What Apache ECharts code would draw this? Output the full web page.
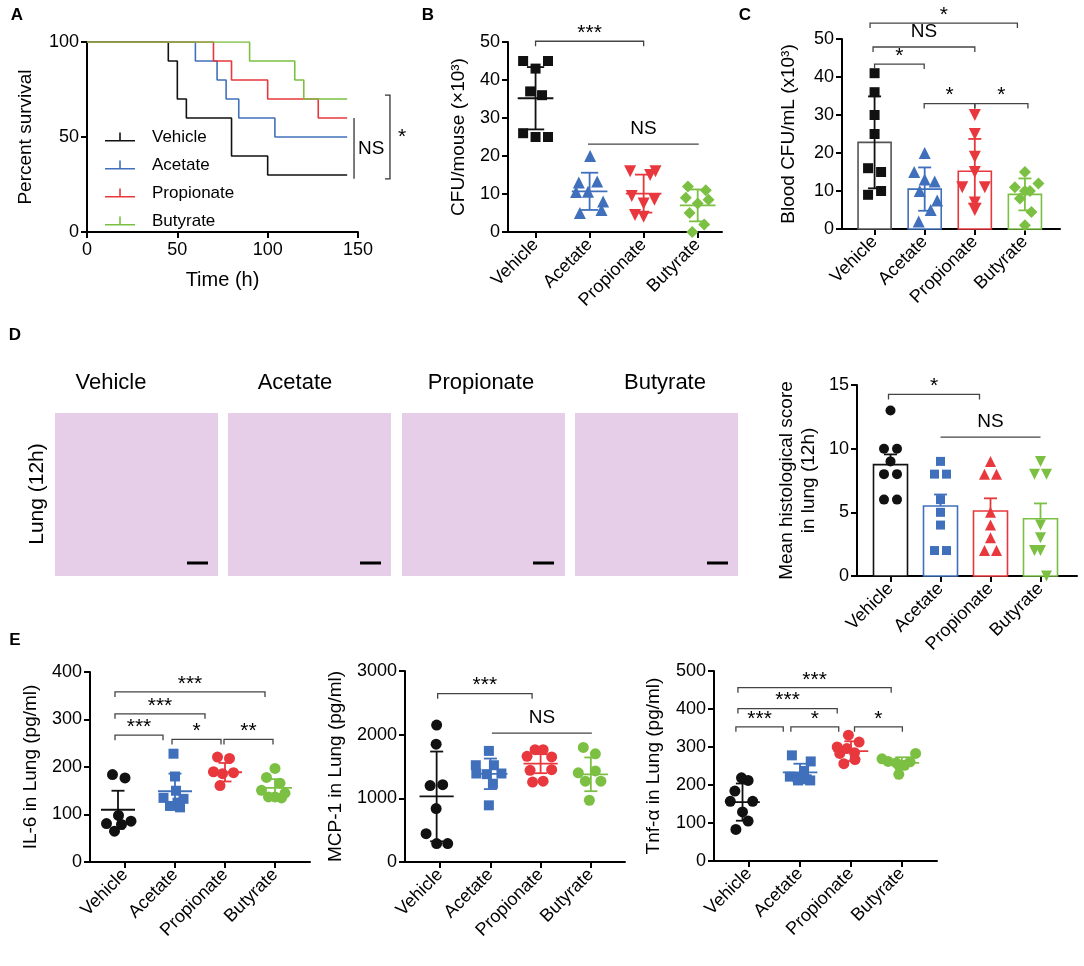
<!DOCTYPE html>
<html>
<head>
<meta charset="utf-8">
<script src="https://cdn.jsdelivr.net/npm/echarts/dist/echarts.min.js"></script>
<style>
  html, body { margin: 0; padding: 0; background: #fff; }
  #chart { width: 1084px; height: 966px; }
</style>
</head>
<body>
<div id="chart"></div>
<script>
const FONT = "'Liberation Sans', Arial, Helvetica, sans-serif";
const groups = ['Vehicle', 'Acetate', 'Propionate', 'Butyrate'];
const groupColors = ['#111111', '#4070bb', '#e8383d', '#7cc043'];

// A - survival curves (time h, percent surviving after each drop)
const survVehicleT = [0, 45, 50, 55, 80, 100, 144];
const survVehicleP = [100, 90, 70, 60, 40, 30, 30];
const survAcetateT = [0, 60, 72, 77, 84, 104, 144];
const survAcetateP = [100, 90, 80, 70, 60, 50, 50];
const survPropT = [0, 70, 80, 100, 128, 144];
const survPropP = [100, 90, 80, 70, 60, 60];
const survButT = [0, 90, 115, 120, 144];
const survButP = [100, 90, 80, 70, 70];
const survBrackets = [[147.8, 60, 28, 'NS', 0], [167.7, 72, 28, '*', 1]];

// B - CFU/mouse (x10^3)
const cfuValues = [
  [45, 45, 43, 37, 36, 26, 25, 25],
  [20, 13, 13.3, 10.5, 10.6, 8, 5, 5.8],
  [16, 16, 15, 9.5, 7.5, 8.5, 4.5, 4],
  [12, 11, 9, 8.5, 7.5, 5, 2, 0]
];
const cfuJitter = [
  [-0.23, 0.23, 0, -0.1, 0.12, -0.23, 0, 0.23],
  [0.01, -0.2, 0.14, -0.25, -0.03, 0.25, -0.18, 0.22],
  [-0.25, 0.22, 0.12, -0.22, 0, 0.2, -0.16, 0],
  [-0.18, 0.15, -0.22, 0.2, 0, -0.15, 0.12, -0.1]
];
const cfuMean = [35.2, 10.7, 10.1, 7.0];
const cfuSd = [8.2, 4.9, 5.0, 4.2];
const cfuBrackets = [[0, 2, 50.2, '***'], [0.97, 3.02, 23.1, 'NS', 0]];

// C - Blood CFU/mL (x10^3)
const bloodValues = [
  [41, 36, 30, 25, 16, 15, 9, 10],
  [20, 15, 13, 12.5, 10, 7.5, 5, 2],
  [30, 25, 19, 15, 11, 11, 7, 5],
  [15, 12, 11, 10, 10, 8, 4.5, 1]
];
const bloodJitter = [
  [0, 0, 0, 0, -0.13, 0.13, -0.13, 0.13],
  [0, -0.21, 0, 0.2, -0.1, 0.25, 0.12, -0.12],
  [0, 0, 0, 0, -0.25, 0.2, 0, 0],
  [0, 0.27, -0.2, 0, 0.1, -0.1, 0.13, 0]
];
const bloodMean = [22.8, 10.5, 15.2, 9.1];
const bloodSd = [12.1, 5.7, 8.5, 4.2];
const bloodBrackets = [
  [-0.09, 2.85, 54.2, '*'], [-0.03, 2.0, 47.9, 'NS'], [0, 0.99, 43.4, '*'],
  [0.99, 2.0, 33, '*'], [2.0, 3.06, 33, '*']
];

// D - mean histological score
const histValues = [
  [13, 10, 10, 9, 8, 8, 6, 6],
  [9, 8, 8, 6, 5, 4, 2, 2],
  [9, 8, 8, 5, 4, 3, 2, 2],
  [9, 8, 8, 4, 3, 2, 2, 0]
];
const histJitter = [
  [0, -0.13, 0.13, 0, -0.13, 0.13, -0.13, 0.13],
  [0, -0.12, 0.12, 0, 0, 0, -0.12, 0.12],
  [0, -0.12, 0.12, 0, 0, 0, -0.12, 0.12],
  [0, -0.12, 0.12, 0, 0, 0, -0.12, 0.12]
];
const histMean = [8.75, 5.5, 5.1, 4.5];
const histSem = [0.8, 0.9, 1.0, 1.2];
const histBrackets = [[-0.04, 1.78, 14.26, '*'], [1.0, 3.0, 10.9, 'NS', 0]];

// E - cytokines in lung (pg/ml)
const il6Values = [
  [184, 177, 98, 81, 86, 79, 65],
  [228, 180, 150, 135, 133, 125, 118, 115],
  [221, 218, 190, 188, 186, 161],
  [197, 178, 166, 151, 145, 137, 137, 135]
];
const il6Jitter = [
  [-0.25, 0, -0.13, -0.37, 0.12, -0.07, -0.21],
  [-0.03, 0, 0.02, -0.23, 0.17, 0.05, -0.1, 0.1],
  [-0.15, 0.09, -0.23, 0.17, -0.05, -0.1],
  [0, -0.17, 0.1, -0.27, 0.2, -0.13, 0, 0.13]
];
const il6Center = [-0.14, 1, 2, 3];
const il6Mean = [110, 149, 189, 156];
const il6Sd = [40, 37, 19.5, 18.5];
const il6Brackets = [
  [-0.2, 2.8, 358, '***'], [-0.2, 1.6, 312, '***'], [-0.2, 0.76, 267, '***'],
  [0.94, 1.92, 258, '*'], [1.98, 2.96, 258, '**']
];

const mcpValues = [
  [2150, 1850, 1200, 1215, 840, 445, 290, 290],
  [1745, 1520, 1520, 1390, 1380, 1390, 1230, 890],
  [1765, 1765, 1660, 1650, 1440, 1450, 1256, 1270],
  [1800, 1700, 1400, 1430, 1270, 1270, 970]
];
const mcpJitter = [
  [-0.07, -0.08, -0.2, 0.05, -0.08, -0.28, -0.07, 0.15],
  [-0.03, -0.29, 0.07, -0.28, -0.07, 0.22, 0.05, -0.03],
  [-0.11, 0.05, -0.27, 0.22, -0.21, 0.22, -0.16, 0.05],
  [-0.15, 0.09, -0.25, 0.09, -0.11, 0.2, -0.03]
];
const mcpCenter = [-0.07, 1, 2, 3];
const mcpMean = [1030, 1385, 1545, 1377];
const mcpSd = [705, 240, 150, 265];
const mcpBrackets = [[-0.05, 1.83, 2644, '***'], [1.03, 3.02, 2025, 'NS', 0]];

const tnfValues = [
  [219, 212, 184, 157, 157, 129, 105, 83],
  [278, 262, 237, 222, 220, 215, 212, 212],
  [331, 313, 300, 296, 285, 283, 267, 256],
  [283, 269, 262, 261, 258, 252, 250, 228]
];
const tnfJitter = [
  [-0.15, -0.02, -0.28, -0.37, 0.07, -0.13, -0.02, -0.26],
  [-0.16, 0.21, 0.08, -0.2, -0.05, 0.13, -0.04, 0.2],
  [-0.05, 0.16, -0.27, -0.08, 0.07, -0.22, 0.08, -0.14],
  [0.27, -0.39, -0.27, 0.16, -0.11, 0.05, -0.05, -0.06]
];
const tnfCenter = [-0.13, 1, 2, 3];
const tnfMean = [155, 233, 289, 258];
const tnfSd = [49, 23, 26, 15];
const tnfBrackets = [
  [-0.22, 2.79, 456, '***'], [-0.22, 1.73, 401, '***'], [-0.26, 0.67, 353, '***'],
  [0.82, 1.76, 353, '*'], [2.07, 3.01, 353, '*']
];

const histTitles = ['Vehicle', 'Acetate', 'Propionate', 'Butyrate'];

// ---------- helpers ----------
const axisLine = { show: true, onZero: false, lineStyle: { color: '#000', width: 2 } };
const axisTick = { show: true, length: 6, lineStyle: { color: '#000', width: 2 } };

function groupAxis(gi, min, max) {
  return {
    type: 'value', gridIndex: gi, min: min, max: max,
    axisLine: axisLine,
    axisTick: Object.assign({ customValues: [0, 1, 2, 3] }, axisTick),
    axisLabel: {
      customValues: [0, 1, 2, 3], rotate: 45, margin: 10, fontSize: 18, color: '#000', fontFamily: FONT,
      formatter: v => groups[Math.round(v)] || ''
    },
    splitLine: { show: false }
  };
}

function valueAxis(gi, max, interval, name, gap, extra) {
  return Object.assign({
    type: 'value', gridIndex: gi, min: 0, max: max, interval: interval,
    name: name, nameLocation: 'middle', nameGap: gap,
    nameTextStyle: { fontSize: 19, color: '#000', fontFamily: FONT },
    axisLine: axisLine, axisTick: axisTick,
    axisLabel: { fontSize: 18, color: '#000', margin: 8, fontFamily: FONT, formatter: v => String(v) },
    splitLine: { show: false }
  }, extra || {});
}

function dots(gi, values, jitter, k, symbol, size, rotate) {
  return {
    type: 'scatter', xAxisIndex: gi, yAxisIndex: gi, silent: true, z: 3,
    symbol: symbol, symbolSize: size, symbolRotate: rotate || 0,
    itemStyle: { color: groupColors[k], opacity: 1 },
    data: values.map((v, i) => [k + jitter[i], v])
  };
}

function errorBars(gi, centers, means, errs, halfMean, halfCap, upOnly) {
  return {
    type: 'custom', xAxisIndex: gi, yAxisIndex: gi, silent: true, z: 4,
    data: means.map((m, i) => [centers[i], m, errs[i], i]),
    renderItem: (params, api) => {
      const x = api.value(0), m = api.value(1), s = api.value(2), k = api.value(3);
      const unit = api.size([1, 0])[0];
      const c = api.coord([x, m]);
      const hi = api.coord([x, m + s]);
      const lo = api.coord([x, upOnly ? m : m - s]);
      const st = { stroke: groupColors[k], lineWidth: 1.8 };
      const cw = halfCap * unit;
      const ch = [
        { type: 'line', shape: { x1: c[0], y1: hi[1], x2: c[0], y2: lo[1] }, style: st },
        { type: 'line', shape: { x1: c[0] - cw, y1: hi[1], x2: c[0] + cw, y2: hi[1] }, style: st }
      ];
      if (!upOnly) ch.push({ type: 'line', shape: { x1: c[0] - cw, y1: lo[1], x2: c[0] + cw, y2: lo[1] }, style: st });
      if (halfMean) ch.push({ type: 'line', shape: { x1: c[0] - halfMean * unit, y1: c[1], x2: c[0] + halfMean * unit, y2: c[1] }, style: st });
      return { type: 'group', children: ch };
    }
  };
}

function openBars(gi, means, half, strokes) {
  return {
    type: 'custom', xAxisIndex: gi, yAxisIndex: gi, silent: true, z: 2,
    data: means.map((m, i) => [i, m]),
    renderItem: (params, api) => {
      const i = api.value(0), m = api.value(1);
      const p0 = api.coord([i - half, m]), p1 = api.coord([i + half, 0]);
      return {
        type: 'rect',
        shape: { x: p0[0], y: p0[1], width: p1[0] - p0[0], height: p1[1] - p0[1] },
        style: { fill: '#fff', stroke: strokes[i], lineWidth: 1.6 }
      };
    }
  };
}

function brackets(gi, list) {
  return {
    type: 'custom', xAxisIndex: gi, yAxisIndex: gi, silent: true, clip: false, z: 5,
    encode: { x: [0, 1], y: 2 },
    data: list.map(b => [b[0], b[1], b[2]]),
    renderItem: (params, api) => {
      const b = list[params.dataIndex];
      const p1 = api.coord([b[0], b[2]]), p2 = api.coord([b[1], b[2]]);
      const t = b[4] === 0 ? 0 : 5;
      const ns = b[3] === 'NS';
      return {
        type: 'group', children: [
          { type: 'polyline', shape: { points: [[p1[0], p1[1] + t], p1, p2, [p2[0], p2[1] + t]] },
            style: { stroke: '#444', lineWidth: 1.3, fill: 'none' } },
          { type: 'text', x: (p1[0] + p2[0]) / 2, y: p1[1] - (ns ? 15 : 8),
            style: { text: b[3], align: 'center', verticalAlign: 'middle', fontSize: ns ? 19 : 21, fill: '#000', fontFamily: FONT } }
        ]
      };
    }
  };
}

function vBrackets(gi, list) {
  return {
    type: 'custom', xAxisIndex: gi, yAxisIndex: gi, silent: true, clip: false, z: 5,
    encode: { x: 0, y: [1, 2] },
    data: list.map(b => [b[0], b[1], b[2]]),
    renderItem: (params, api) => {
      const b = list[params.dataIndex];
      const p1 = api.coord([b[0], b[1]]), p2 = api.coord([b[0], b[2]]);
      const t = b[4] === 0 ? 0 : 5;
      const ns = b[3] === 'NS';
      return {
        type: 'group', children: [
          { type: 'polyline', shape: { points: [[p1[0] - t, p1[1]], p1, p2, [p2[0] - t, p2[1]]] },
            style: { stroke: '#333', lineWidth: 1.3, fill: 'none' } },
          { type: 'text', x: p1[0] + (ns ? 4 : 8), y: (p1[1] + p2[1]) / 2,
            style: { text: b[3], align: 'left', verticalAlign: 'middle', fontSize: ns ? 19 : 21, fill: '#000', fontFamily: FONT } }
        ]
      };
    }
  };
}

function survLine(name, t, p, k) {
  return {
    name: name, type: 'line', xAxisIndex: 0, yAxisIndex: 0, step: 'end', showSymbol: false, silent: true,
    lineStyle: { color: groupColors[k], width: 1.6 }, itemStyle: { color: groupColors[k] },
    data: t.map((x, i) => [x, p[i]])
  };
}

// ---------- graphics (panel letters, histology placeholders) ----------
const imgX = [55, 228, 402, 575];
const titleX = [111, 295, 481, 665];
const scaleBarX = [187, 360, 533, 707];
const graphics = [];
[['A', 17, 15], ['B', 428, 15], ['C', 745, 15], ['D', 15, 335], ['E', 15, 640]].forEach(l => {
  graphics.push({ type: 'text', x: l[1], y: l[2],
    style: { text: l[0], font: 'bold 17px ' + FONT, fill: '#000', align: 'center', verticalAlign: 'middle' } });
});
histTitles.forEach((t, i) => {
  graphics.push({ type: 'text', x: titleX[i], y: 383,
    style: { text: t, fontSize: 22, fontFamily: FONT, fill: '#000', align: 'center', verticalAlign: 'middle' } });
  graphics.push({ type: 'rect', shape: { x: imgX[i], y: 413, width: 163, height: 163 },
    style: { fill: '#e6cde8' } });
  graphics.push({ type: 'line', shape: { x1: scaleBarX[i], y1: 563, x2: scaleBarX[i] + 21, y2: 563 },
    style: { stroke: '#000', lineWidth: 3 } });
});
graphics.push({ type: 'text', x: 37, y: 494, rotation: Math.PI / 2,
  style: { text: 'Lung (12h)', fontSize: 21, fontFamily: FONT, fill: '#000', align: 'center', verticalAlign: 'middle' } });

// ---------- option ----------
const series = [
  survLine('Vehicle', survVehicleT, survVehicleP, 0),
  survLine('Acetate', survAcetateT, survAcetateP, 1),
  survLine('Propionate', survPropT, survPropP, 2),
  survLine('Butyrate', survButT, survButP, 3),
  vBrackets(0, survBrackets)
];

// B
const bcSymbols = [['rect', 10, 0], ['triangle', 12, 0], ['triangle', 12, 180], ['diamond', 12, 0]];
cfuValues.forEach((v, k) => series.push(dots(1, v, cfuJitter[k], k, bcSymbols[k][0], bcSymbols[k][1], bcSymbols[k][2])));
series.push(errorBars(1, [0, 1, 2, 3], cfuMean, cfuSd, 0.33, 0.16, false));
series.push(brackets(1, cfuBrackets));

// C
series.push(openBars(2, bloodMean, 0.33, ['#555', groupColors[1], groupColors[2], groupColors[3]]));
bloodValues.forEach((v, k) => series.push(dots(2, v, bloodJitter[k], k, bcSymbols[k][0], bcSymbols[k][1], bcSymbols[k][2])));
series.push(errorBars(2, [0, 1, 2, 3], bloodMean, bloodSd, 0, 0.13, false));
series.push(brackets(2, bloodBrackets));

// D
const dSymbols = [['circle', 10, 0], ['rect', 9, 0], ['triangle', 11, 0], ['triangle', 11, 180]];
series.push(openBars(3, histMean, 0.34, ['#111', groupColors[1], groupColors[2], groupColors[3]]));
histValues.forEach((v, k) => series.push(dots(3, v, histJitter[k], k, dSymbols[k][0], dSymbols[k][1], dSymbols[k][2])));
series.push(errorBars(3, [0, 1, 2, 3], histMean, histSem, 0, 0.13, true));
series.push(brackets(3, histBrackets));

// E
const eSymbols = [['circle', 11], ['rect', 10], ['circle', 11], ['circle', 11]];
[[4, il6Values, il6Jitter, il6Center, il6Mean, il6Sd, il6Brackets],
 [5, mcpValues, mcpJitter, mcpCenter, mcpMean, mcpSd, mcpBrackets],
 [6, tnfValues, tnfJitter, tnfCenter, tnfMean, tnfSd, tnfBrackets]].forEach(p => {
  p[1].forEach((v, k) => series.push(dots(p[0], v, p[2][k], k, eSymbols[k][0], eSymbols[k][1], 0)));
  series.push(errorBars(p[0], p[3], p[4], p[5], 0.34, 0.13, false));
  series.push(brackets(p[0], p[6]));
});

const option = {
  animation: false,
  backgroundColor: '#fff',
  textStyle: { fontFamily: FONT, color: '#000' },
  grid: [
    { left: 87, top: 42, width: 271, height: 190 },
    { left: 508, top: 42, width: 214, height: 190 },
    { left: 842, top: 39, width: 218, height: 190 },
    { left: 857, top: 385, width: 220, height: 191 },
    { left: 90, top: 672, width: 220, height: 190 },
    { left: 405, top: 671, width: 220, height: 191 },
    { left: 714, top: 671, width: 223, height: 190 }
  ],
  xAxis: [
    { type: 'value', gridIndex: 0, min: 0, max: 150, interval: 50,
      name: 'Time (h)', nameLocation: 'middle', nameGap: 38,
      nameTextStyle: { fontSize: 20, color: '#000', fontFamily: FONT },
      axisLine: axisLine, axisTick: axisTick,
      axisLabel: { fontSize: 18, color: '#000', margin: 9, fontFamily: FONT },
      splitLine: { show: false } },
    groupAxis(1, -0.51, 3.45),
    groupAxis(2, -0.65, 3.7),
    groupAxis(3, -0.67, 3.73),
    groupAxis(4, -0.7, 3.7),
    groupAxis(5, -0.7, 3.68),
    groupAxis(6, -0.69, 3.69)
  ],
  yAxis: [
    valueAxis(0, 100, 50, 'Percent survival', 52),
    valueAxis(1, 50, 10, 'CFU/mouse (\u00d710\u00b3)', 40),
    valueAxis(2, 50, 10, 'Blood CFU/mL (x10\u00b3)', 44),
    valueAxis(3, 15, 5, 'Mean histological score\nin lung (12h)', 37,
      { nameTextStyle: { fontSize: 19, lineHeight: 22, color: '#000', fontFamily: FONT } }),
    valueAxis(4, 400, 100, 'IL-6 in Lung (pg/ml)', 50),
    valueAxis(5, 3000, 1000, 'MCP-1 in Lung (pg/ml)', 60),
    valueAxis(6, 500, 100, 'Tnf-\u03b1 in Lung (pg/ml)', 51)
  ],
  legend: {
    data: groups, orient: 'vertical', left: 100, top: 122, selectedMode: false,
    itemWidth: 30, itemHeight: 9, itemGap: 8,
    icon: 'path://M0,7.5 L30,7.5 L30,9 L0,9 Z M14.2,0 L15.8,0 L15.8,8 L14.2,8 Z',
    textStyle: { fontSize: 17, color: '#000', fontFamily: FONT, lineHeight: 20, padding: [0, 0, 0, 12] }
  },
  graphic: graphics,
  series: series
};

const chart = echarts.init(document.getElementById('chart'));
chart.setOption(option);
</script>
</body>
</html>
